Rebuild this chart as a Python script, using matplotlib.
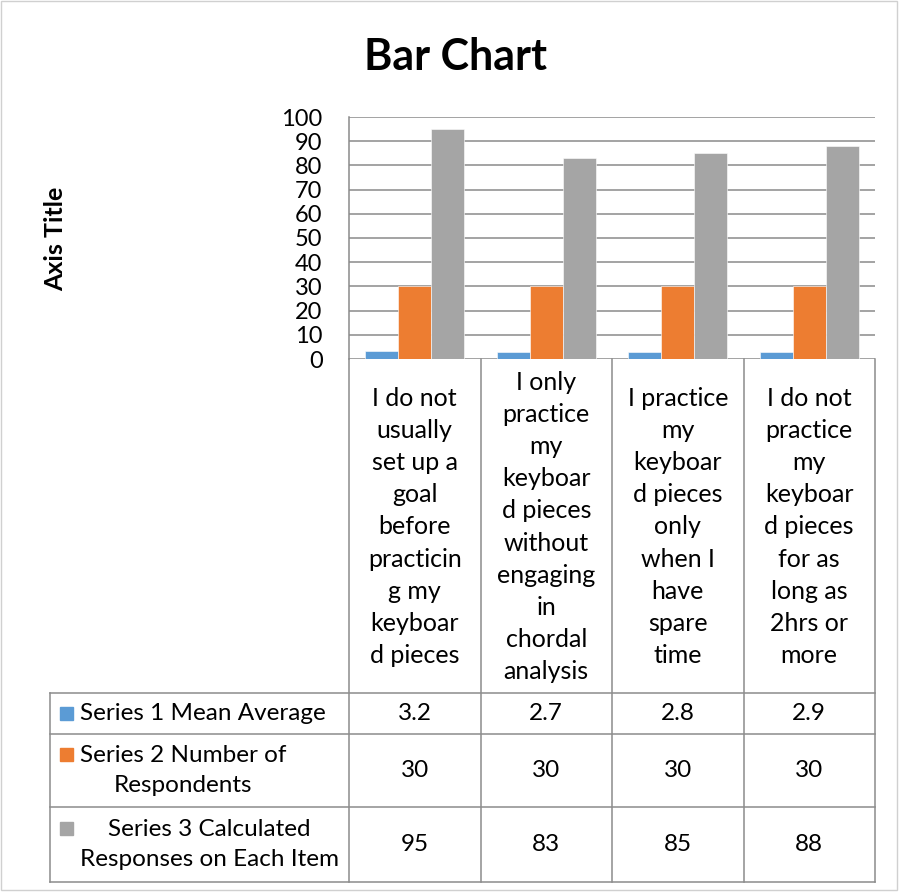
import matplotlib.pyplot as plt
from matplotlib.lines import Line2D
from matplotlib.patches import Rectangle
import numpy as np

plt.rcParams['font.family'] = ['Lato', 'DejaVu Sans']

categories = [
    "I do not\nusually\nset up a\ngoal\nbefore\npracticin\ng my\nkeyboar\nd pieces",
    "I only\npractice\nmy\nkeyboar\nd pieces\nwithout\nengaging\nin\nchordal\nanalysis",
    "I practice\nmy\nkeyboar\nd pieces\nonly\nwhen I\nhave\nspare\ntime",
    "I do not\npractice\nmy\nkeyboar\nd pieces\nfor as\nlong as\n2hrs or\nmore",
]
series_names = [
    "Series 1 Mean Average",
    "Series 2 Number of\nRespondents",
    "Series 3 Calculated\nResponses on Each Item",
]
series1 = [3.2, 2.7, 2.8, 2.9]
series2 = [30, 30, 30, 30]
series3 = [95, 83, 85, 88]
colors = ['#5B9BD5', '#ED7D31', '#A5A5A5']

W, H = 899, 892
fig = plt.figure(figsize=(W / 100, H / 100), dpi=100)

# pixel geometry of the Excel layout
px_left, px_right, px_top, px_bottom = 349, 875, 117, 359
tab_left = 50
row_lines = [693, 734, 807, 882]

ax = fig.add_axes([px_left / W, 1 - px_bottom / H,
                   (px_right - px_left) / W, (px_bottom - px_top) / H])
x = np.arange(len(categories))
bw = 0.25
for i, (vals, c) in enumerate(zip([series1, series2, series3], colors)):
    ax.bar(x + (i - 1) * bw, vals, bw, color=c, zorder=3,
           edgecolor='white', linewidth=0.4)
ax.set_xlim(-0.5, len(categories) - 0.5)
ax.set_ylim(0, 100)
ax.set_yticks(range(0, 101, 10))
ax.set_xticks([])
ax.tick_params(axis='y', length=0, pad=19, labelsize=17)
ax.yaxis.grid(True, color='#8a8a8a', linewidth=1.1, zorder=0)
for s in ['top', 'right', 'bottom']:
    ax.spines[s].set_visible(False)
ax.spines['left'].set_color('#8a8a8a')
ax.spines['left'].set_linewidth(1.1)

fig.suptitle("Bar Chart", x=455 / W, y=1 - 57 / H, va='center',
             fontsize=31, fontweight='bold')
fig.text(56 / W, 1 - 239 / H, "Axis Title", rotation=90, ha='center',
         va='center', fontsize=18, fontweight='bold')

# data table drawn on an overlay axes in pixel coordinates
tab = fig.add_axes([0, 0, 1, 1])
tab.set_xlim(0, W)
tab.set_ylim(H, 0)
tab.axis('off')
tab.patch.set_alpha(0)

lc = '#8c8c8c'
col_edges = np.linspace(px_left, px_right, len(categories) + 1)
for xe in col_edges:
    tab.add_line(Line2D([xe, xe], [px_bottom, row_lines[-1]], color=lc, lw=1.1))
tab.add_line(Line2D([tab_left, tab_left], [row_lines[0], row_lines[-1]], color=lc, lw=1.1))
for ye in row_lines:
    tab.add_line(Line2D([tab_left, px_right], [ye, ye], color=lc, lw=1.1))

col_centers = (col_edges[:-1] + col_edges[1:]) / 2
for cx, lab in zip(col_centers, categories):
    tab.text(cx, 527, lab, ha='center', va='center', fontsize=18,
             linespacing=1.48, multialignment='center')

row_centers = [(row_lines[i] + row_lines[i + 1]) / 2 for i in range(3)]
for ry, name, vals, c in zip(row_centers, series_names,
                             [series1, series2, series3], colors):
    top = ry - (16 if '\n' in name else 0)
    tab.add_patch(Rectangle((60, top - 7), 13, 13, color=c))
    tab.text(80, ry, name, ha='left', va='center', fontsize=17.5,
             linespacing=1.48, multialignment='center')
    for cx, v in zip(col_centers, vals):
        tab.text(cx, ry, f"{v:g}", ha='center', va='center', fontsize=17.5)

# outer chart border
tab.add_patch(Rectangle((1, 1), W - 3, H - 3, fill=False, edgecolor='#d0d0d0', lw=1))

fig.savefig("out.png", dpi=100)
